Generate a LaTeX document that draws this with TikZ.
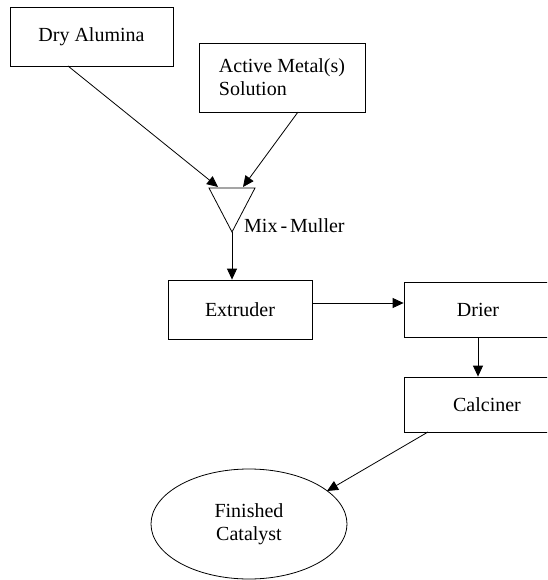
\documentclass[tikz,border=0pt]{standalone}
\usepackage{fontspec}
\setmainfont{Liberation Serif}
\usetikzlibrary{arrows.meta,shapes.geometric,calc}
\begin{document}
\begin{tikzpicture}[x=1pt,y=-1pt,
  box/.style={draw,line width=0.8pt,rectangle,inner sep=0pt,font=\fontsize{20}{23}\selectfont},
  conn/.style={line width=0.8pt,-{Triangle[length=11pt,width=10pt]}},
  lbl/.style={font=\fontsize{20}{23}\selectfont}]
\clip (0,0) rectangle (547,580);
\fill[white] (0,0) rectangle (547,580);
% boxes
\node[box,minimum width=163pt,minimum height=59pt] (dry) at (91.5,36.5) {Dry Alumina};
\node[box,minimum width=166pt,minimum height=69pt,align=left] (act) at (282,77.5) {Active Metal(s)\\Solution};
\node[box,minimum width=144pt,minimum height=59pt] (ext) at (240,309.5) {Extruder};
\node[box,minimum width=148pt,minimum height=55pt] (dri) at (478,309.5) {Drier};
\node[box,minimum width=166pt,minimum height=55pt] (cal) at (487,404.5) {Calciner};
\node[draw,line width=0.8pt,ellipse,minimum width=196pt,minimum height=110pt,inner sep=0pt,align=center,font=\fontsize{20}{23}\selectfont] (fin) at (249,524) {Finished\\Catalyst};
% mix-muller triangle
\coordinate (mixTL) at (209,188);
\coordinate (mixTR) at (255,188);
\coordinate (mix) at (232,232);
\draw[line width=0.8pt] (mixTL) -- (mixTR) -- (mix) -- cycle;
\node[lbl,anchor=base west,inner sep=0pt] (mixlbl) at (244,232) {Mix\kern3pt-\kern3pt Muller};
% connector end points
\coordinate (dryout) at (68,66);
\coordinate (mixinL) at (218,187);
\coordinate (actout) at (298,112);
\coordinate (mixinR) at (243,187);
\coordinate (extout) at ($(ext.east)+(0,-6.5)$);
\coordinate (calout) at (428,432);
\coordinate (finin) at (327,491);
% connectors
\draw[conn] (dryout) -- (mixinL);
\draw[conn] (actout) -- (mixinR);
\draw[conn] (mix) -- (mix |- ext.north);
\draw[conn] (extout) -- (extout -| dri.west);
\draw[conn] (dri.south) -- (dri.south |- cal.north);
\draw[conn] (calout) -- (finin);
\end{tikzpicture}
\end{document}
